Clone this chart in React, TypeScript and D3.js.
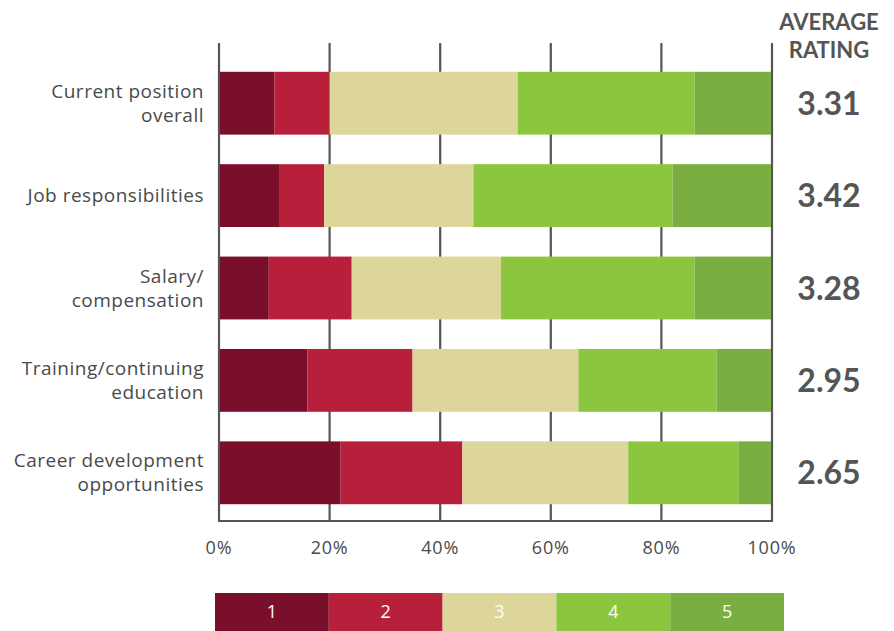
import React from "react";
import * as d3 from "d3";

const categories = [
  ["Current position", "overall"],
  ["Job responsibilities"],
  ["Salary/", "compensation"],
  ["Training/continuing", "education"],
  ["Career development", "opportunities"],
];
const ratingKeys = ["1", "2", "3", "4", "5"];
const shares = [
  [10, 10, 34, 32, 14],
  [11, 8, 27, 36, 18],
  [9, 15, 27, 35, 14],
  [16, 19, 30, 25, 10],
  [22, 22, 30, 20, 6],
];
const averages = ["3.31", "3.42", "3.28", "2.95", "2.65"];
const ticks = [0, 20, 40, 60, 80, 100];
const colors = ["#7a0f2b", "#b81f3a", "#dcd69b", "#8cc63f", "#7aae41"];

const W = 894;
const H = 631;
const FONT = "'Open Sans', Lato, sans-serif";
const BOLD = "Lato, 'Open Sans', sans-serif";
const TXT = "#4a4a4a";

export default function App() {
  const x = d3.scaleLinear().domain([0, 100]).range([219, 772]);
  const y = d3
    .scaleBand<number>()
    .domain(d3.range(categories.length))
    .range([57, 519])
    .paddingInner(0.32)
    .paddingOuter(0.16);
  const stackData = shares.map((s, i) => {
    const o: any = { idx: i };
    ratingKeys.forEach((k, j) => (o[k] = s[j]));
    return o;
  });
  const series = d3.stack().keys(ratingKeys)(stackData as any);
  const legendX = d3.scaleBand<string>().domain(ratingKeys).range([215, 784]);
  const gridTop = 43;
  const axisY = 521;

  return (
    <svg width={W} height={H} style={{ position: "absolute", left: 0, top: 0 }}>
      <rect width={W} height={H} fill="#fff" />
      {ticks.map((t) => (
        <line key={t} x1={x(t)} x2={x(t)} y1={gridTop} y2={axisY} stroke="#555" strokeWidth={2.2} />
      ))}
      <line x1={x(0) - 1} x2={x(100) + 1} y1={axisY} y2={axisY} stroke="#555" strokeWidth={2.2} />
      {series.map((s, j) => (
        <g key={j} fill={colors[j]}>
          {s.map((d, i) => (
            <rect
              key={i}
              x={x(d[0]) + (j === 0 ? 1 : 0)}
              y={y(i)!}
              width={x(d[1]) - x(d[0]) - (j === 0 ? 1 : 0) - (j === 4 ? 1 : 0)}
              height={y.bandwidth()}
            />
          ))}
        </g>
      ))}
      {categories.map((lines, i) => {
        const cy = y(i)! + y.bandwidth() / 2;
        const lh = 24;
        const start = cy - ((lines.length - 1) * lh) / 2;
        return lines.map((l, k) => (
          <text
            key={i + "-" + k}
            x={204}
            y={start + k * lh}
            dy="0.35em"
            textAnchor="end"
            fontFamily={FONT}
            fontSize={19}
            letterSpacing={0.5}
            fill={TXT}
          >
            {l}
          </text>
        ));
      })}
      {averages.map((a, i) => (
        <text
          key={i}
          x={829}
          y={y(i)! + y.bandwidth() / 2}
          dy="0.36em"
          textAnchor="middle"
          fontFamily={BOLD}
          fontSize={32}
          fontWeight={700}
          fill="#555"
        >
          {a}
        </text>
      ))}
      <text x={829} y={30} textAnchor="middle" fontFamily={BOLD} fontSize={22} fontWeight={700} fill="#555">
        AVERAGE
      </text>
      <text x={829} y={58} textAnchor="middle" fontFamily={BOLD} fontSize={22} fontWeight={700} fill="#555">
        RATING
      </text>
      {ticks.map((t) => (
        <text key={t} x={x(t)} y={554} textAnchor="middle" fontFamily={FONT} fontSize={18} letterSpacing={0.8} fill={TXT}>
          {t}%
        </text>
      ))}
      {ratingKeys.map((k, j) => (
        <g key={k}>
          <rect x={legendX(k)!} y={593} width={legendX.bandwidth()} height={38} fill={colors[j]} />
          <text
            x={legendX(k)! + legendX.bandwidth() / 2}
            y={612}
            dy="0.36em"
            textAnchor="middle"
            fontFamily={FONT}
            fontSize={18}
            fill="#fff"
          >
            {k}
          </text>
        </g>
      ))}
    </svg>
  );
}
